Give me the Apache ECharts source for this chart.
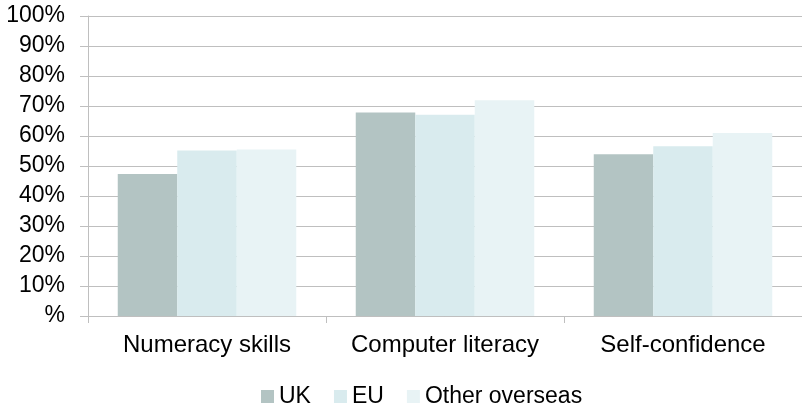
<!DOCTYPE html>
<html>
<head>
<meta charset="utf-8">
<script src="https://cdn.jsdelivr.net/npm/echarts@6/dist/echarts.min.js"></script>
<style>html,body{margin:0;padding:0;background:#fff}#c{width:802px;height:409px}</style>
</head>
<body>
<div id="c"></div>
<script>
var categories = ['Numeracy skills', 'Computer literacy', 'Self-confidence'];
var seriesNames = ['UK', 'EU', 'Other overseas'];
var ukValues = [47.3, 67.8, 53.9];
var euValues = [55.2, 67.1, 56.6];
var otherValues = [55.5, 71.9, 61.0];
var colors = ['#b3c4c3', '#d9ebee', '#e8f3f5'];

var font = 'Liberation Sans, Arial, sans-serif';
var chart = echarts.init(document.getElementById('c'), null, {renderer: 'canvas'});
var dataSets = [ukValues, euValues, otherValues];
chart.setOption({
  animation: false,
  color: colors,
  grid: {left: 88, top: 16, width: 721, height: 300},
  legend: {
    top: 380, left: 256,
    itemWidth: 13, itemHeight: 13, itemGap: 23,
    icon: 'rect',
    textStyle: {fontFamily: font, fontSize: 23, color: '#000'},
    data: seriesNames
  },
  xAxis: {
    type: 'category', data: categories,
    axisLine: {lineStyle: {color: '#bfbfbf', width: 1}},
    axisTick: {show: true, interval: 0, length: 7, alignWithLabel: false, lineStyle: {color: '#bfbfbf'}},
    axisLabel: {interval: 0, hideOverlap: false, fontFamily: font, fontSize: 24, color: '#000', margin: 17}
  },
  yAxis: {
    type: 'value', min: 0, max: 100, interval: 10,
    axisLine: {show: true, lineStyle: {color: '#bfbfbf', width: 1}},
    axisTick: {show: true, length: 8, lineStyle: {color: '#bfbfbf'}},
    splitLine: {show: true, lineStyle: {color: '#bfbfbf', width: 1.2}},
    axisLabel: {fontFamily: font, fontSize: 23, color: '#000', margin: 23,
      formatter: function (v) { return v === 0 ? '%' : v + '%'; }}
  },
  series: seriesNames.map(function (n, i) {
    return {name: n, type: 'bar', data: dataSets[i], barGap: '0%', barCategoryGap: '25%'};
  })
});
</script>
</body>
</html>
